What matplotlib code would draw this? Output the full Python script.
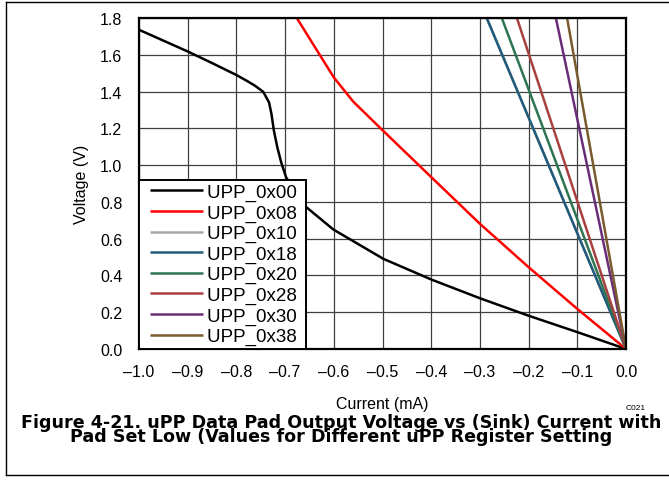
import matplotlib
matplotlib.use("Agg")
import matplotlib.pyplot as plt
from matplotlib.lines import Line2D
from matplotlib.legend_handler import HandlerLine2D

plt.rcParams['font.family'] = ['Liberation Sans', 'DejaVu Sans']
plt.rcParams['axes.unicode_minus'] = True

# ---- data ----
labels = ["UPP_0x00", "UPP_0x08", "UPP_0x10", "UPP_0x18",
          "UPP_0x20", "UPP_0x28", "UPP_0x30", "UPP_0x38"]
colors = ["#000000", "#FF0000", "#A6A6A6", "#215B7B",
          "#2E7450", "#A9403F", "#6A2E78", "#7A5A2F"]

cur_00 = [-1.0, -0.95, -0.9, -0.85, -0.8, -0.779, -0.762, -0.745, -0.733, -0.728,
          -0.723, -0.716, -0.708, -0.698, -0.659, -0.601, -0.498, -0.399, -0.3,
          -0.2, -0.098, 0.0]
volt_00 = [1.736, 1.677, 1.618, 1.555, 1.490, 1.459, 1.432, 1.399, 1.341, 1.278,
           1.187, 1.097, 1.015, 0.934, 0.777, 0.65, 0.49, 0.377, 0.276,
           0.181, 0.09, 0.0]

cur_08 = [-0.676, -0.6, -0.56, -0.5, -0.4, -0.3, -0.2, -0.1, 0.0]
volt_08 = [1.8, 1.477, 1.345, 1.19, 0.935, 0.681, 0.445, 0.218, 0.0]

cur_10 = [-0.286, 0.0]
volt_10 = [1.8, 0.0]
cur_18 = [-0.286, 0.0]
volt_18 = [1.8, 0.0]
cur_20 = [-0.255, 0.0]
volt_20 = [1.8, 0.0]
cur_28 = [-0.224, 0.0]
volt_28 = [1.8, 0.0]
cur_30 = [-0.144, 0.0]
volt_30 = [1.8, 0.0]
cur_38 = [-0.121, 0.0]
volt_38 = [1.8, 0.0]

xticks = [-1.0, -0.9, -0.8, -0.7, -0.6, -0.5, -0.4, -0.3, -0.2, -0.1, 0.0]
yticks = [0.0, 0.2, 0.4, 0.6, 0.8, 1.0, 1.2, 1.4, 1.6, 1.8]

title_lines = ["Figure 4-21. uPP Data Pad Output Voltage vs (Sink) Current with",
               "Pad Set Low (Values for Different uPP Register Setting"]

series = [(cur_00, volt_00), (cur_08, volt_08), (cur_10, volt_10), (cur_18, volt_18),
          (cur_20, volt_20), (cur_28, volt_28), (cur_30, volt_30), (cur_38, volt_38)]

W, H = 669, 481
fig = plt.figure(figsize=(W / 100, H / 100), dpi=100)
ax = fig.add_axes([139 / W, 1 - 350 / H, (626 - 139) / W, (350 - 19) / H])

for (x, y), lab, col in zip(series, labels, colors):
    ax.plot(x, y, color=col, lw=1.8, label=lab + " ", solid_capstyle='butt',
            solid_joinstyle='round', zorder=3)

ax.set_xlim(-1.0, 0.0)
ax.set_ylim(0.0, 1.8)
ax.set_xticks(xticks)
ax.set_yticks(yticks)
ax.set_xticklabels(["\u2013%.1f" % abs(v) if v < 0 else "%.1f" % v for v in xticks])
ax.set_yticklabels(["%.1f" % v for v in yticks])
ax.tick_params(length=0, labelsize=11.5, pad=12)
ax.tick_params(axis='x', pad=11)
ax.grid(True, color='#404040', lw=0.9)
ax.set_axisbelow(True)
for s in ax.spines.values():
    s.set_linewidth(1.6)
    s.set_color('black')
    s.set_zorder(5)

ax.set_xlabel("Current (mA)", fontsize=11.5, labelpad=12)
ax.set_ylabel("Voltage (V)", fontsize=11.5, labelpad=8)

leg = ax.legend(loc='lower left', bbox_to_anchor=(0.0, 0.0), fontsize=13.5,
                frameon=True, fancybox=False, edgecolor='black', framealpha=1,
                borderaxespad=0, handlelength=3.21, handletextpad=0.21,
                labelspacing=0.175, borderpad=0.2,
                handler_map={Line2D: HandlerLine2D(xpad=0.39)})
leg.get_frame().set_linewidth(1.4)
leg.set_zorder(6)

fig.text(636 / W, 1 - 408 / H, "C021", fontsize=6, ha='center', va='center')
fig.text(341 / W, 1 - 430 / H, "\n".join(title_lines),
         fontsize=12.6, fontweight='bold', ha='center', va='center',
         multialignment='center', linespacing=0.78, family=['DejaVu Sans'])

# figure frame lines
fig.add_artist(Line2D([6 / W, 6 / W], [1 - 3 / H, 1 - 476 / H], transform=fig.transFigure,
                      color='black', lw=1.0))
fig.add_artist(Line2D([6 / W, 1.0], [1 - 3 / H, 1 - 3 / H], transform=fig.transFigure,
                      color='black', lw=1.0))
fig.add_artist(Line2D([6 / W, 1.0], [1 - 476 / H, 1 - 476 / H], transform=fig.transFigure,
                      color='black', lw=1.0))

fig.savefig("out.png", dpi=100)
